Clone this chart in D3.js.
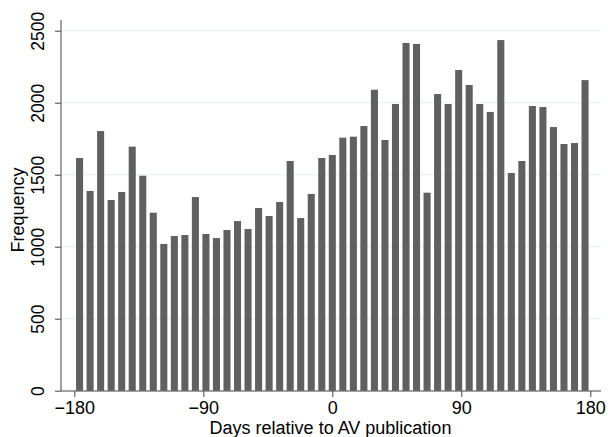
<!DOCTYPE html>
<html><head><meta charset="utf-8">
<script src="https://cdn.jsdelivr.net/npm/d3@7"></script>
<style>body{margin:0;background:#fff;}svg{display:block;font-family:"Liberation Sans",Arial,sans-serif;}</style>
</head><body><svg id="c" width="608" height="437"></svg>
<script>
const binStart = -180, binEnd = 180;
const frequencies = [1616,1387,1803,1324,1380,1695,1493,1236,1019,1074,1081,1345,1088,1060,1116,1178,1123,1269,1213,1310,1595,1199,1366,1616,1637,1757,1764,1838,2090,1741,1991,2415,2408,1375,2060,1991,2227,2123,1991,1936,2435,1512,1595,1977,1970,1831,1713,1720,2157];
const xTicks = [-180,-90,0,90,180];
const yTicks = [0,500,1000,1500,2000,2500];
const xTitle = "Days relative to AV publication";
const yTitle = "Frequency";

const svg = d3.select("#c");
const plotL = 61, plotR = 601, plotT = 20, plotB = 391;
const x = d3.scaleLinear().domain([binStart, binEnd]).range([74.3, 590.3]);
const y = d3.scaleLinear().domain([0, 2500]).range([390.7, 30.7]);
const n = frequencies.length;
const bw = (binEnd - binStart) / n;
const bins = frequencies.map((v,i)=>({x0: binStart + i*bw, x1: binStart + (i+1)*bw, v}));

// gridlines
svg.append("g").selectAll("line").data(yTicks.filter(d=>d>0)).join("line")
  .attr("x1", plotL).attr("x2", plotR)
  .attr("y1", d=>y(d)).attr("y2", d=>y(d))
  .attr("stroke", "#eaf2f3").attr("stroke-width", 1.2);

// bars
const pxBin = x(binStart+bw) - x(binStart);
const barW = pxBin * 0.67;
svg.append("g").selectAll("rect").data(bins).join("rect")
  .attr("x", d => (x(d.x0)+x(d.x1))/2 - barW/2)
  .attr("width", barW)
  .attr("y", d => y(d.v))
  .attr("height", d => y(0) - y(d.v))
  .attr("fill", "#606060");

// axes
const axCol = "#444";
const xAxis = svg.append("g").attr("transform", `translate(0,${plotB})`)
  .call(d3.axisBottom(x).tickValues(xTicks).tickSize(6)
    .tickFormat(d => d < 0 ? "\u2212" + Math.abs(d) : d));
xAxis.select(".domain").remove();
xAxis.append("line").attr("x1", plotL).attr("x2", plotR).attr("y1",0).attr("y2",0).attr("stroke", axCol);
xAxis.selectAll(".tick line").attr("stroke", axCol);
xAxis.selectAll("text").attr("font-size", 18).attr("fill", "#000")
  .attr("font-family", "Liberation Sans, Arial, sans-serif")
  .attr("dy", null).attr("y", 22.5);

const yAxis = svg.append("g").attr("transform", `translate(${plotL},0)`)
  .call(d3.axisLeft(y).tickValues(yTicks).tickSize(6).tickFormat(d3.format("d")));
yAxis.select(".domain").remove();
yAxis.append("line").attr("x1",0).attr("x2",0).attr("y1", plotT).attr("y2", plotB).attr("stroke", axCol);
yAxis.selectAll(".tick line").attr("stroke", axCol);
yAxis.selectAll("text").attr("font-size", 17.5).attr("fill", "#000")
  .attr("font-family", "Liberation Sans, Arial, sans-serif")
  .attr("x", null).attr("dy", null)
  .attr("transform", "translate(-23,0) rotate(-90)")
  .attr("text-anchor", "middle").attr("dominant-baseline", "central");

svg.append("text").attr("x", 330.5).attr("y", 434).attr("text-anchor", "middle")
  .attr("font-size", 18).attr("fill", "#000").text(xTitle);
svg.append("text").attr("transform", "translate(24,210) rotate(-90)")
  .attr("text-anchor", "middle").attr("font-size", 18).attr("fill", "#000").text(yTitle);
</script></body></html>
